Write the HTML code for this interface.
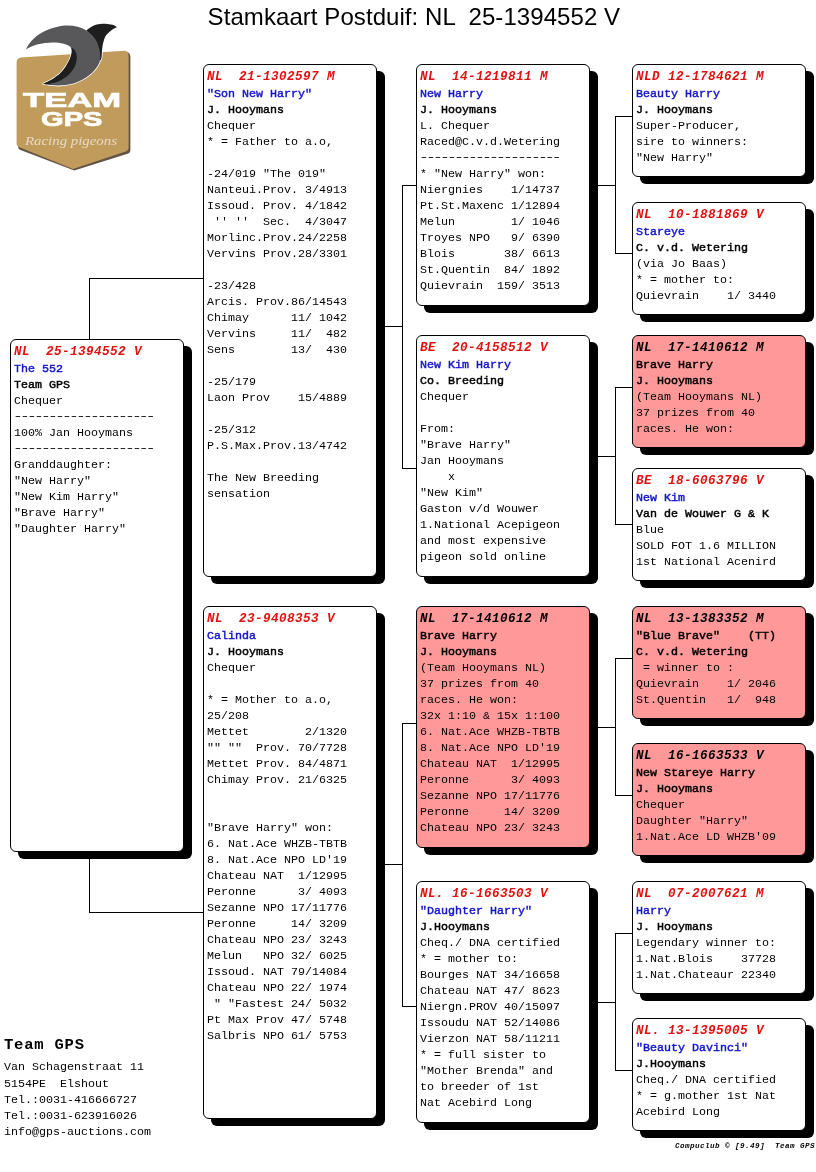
<!DOCTYPE html>
<html lang="nl"><head><meta charset="utf-8"><title>Stamkaart Postduif: NL 25-1394552 V</title>
<style>
html,body{margin:0;padding:0;background:#fff;}
body{width:816px;height:1172px;position:relative;overflow:hidden;font-family:"Liberation Mono",monospace;font-size:11.67px;line-height:16px;color:#000;}
.ln{position:absolute;background:#000;}
.bx{position:absolute;box-sizing:border-box;width:174px;border:1px solid #000;border-radius:6px;background:#fff;box-shadow:8px 7px 0 0 #000;padding:5px 0 0 3px;overflow:hidden;}
.bx.pk{background:#ff9999;}
.bx div{height:16px;white-space:pre;}
.h{font-weight:bold;font-style:italic;color:#e01010;font-size:12.6px;letter-spacing:0.44px;position:relative;top:-1px;}
.n{-webkit-text-stroke:0.45px #1515cc;color:#1515cc;}
.o{-webkit-text-stroke:0.45px #000;}
.bx div.d{letter-spacing:-2px;transform:translate(-1px,-1.25px) scaleX(1.4);transform-origin:0 0;width:120px;}
.pk .h,.pk .n{color:#000;-webkit-text-stroke-color:#000;}
.title{position:absolute;left:207.6px;top:3px;letter-spacing:0.07px;font-family:"Liberation Sans",sans-serif;font-size:24px;line-height:28px;white-space:pre;}
.adr{position:absolute;left:4px;top:1059px;}
.adr div{height:16px;white-space:pre;}
.adr div:first-child{height:17px;}
.tg{position:absolute;left:4px;top:1035px;font-size:15.5px;letter-spacing:0.8px;line-height:20px;font-weight:bold;white-space:pre;}
.ft{position:absolute;left:675px;top:1141px;font-size:7.6px;letter-spacing:0.44px;line-height:10px;font-weight:bold;font-style:italic;white-space:pre;}
.logo{position:absolute;left:0;top:0;}
</style></head><body>
<div class="title">Stamkaart Postduif: NL  25-1394552 V</div>
<svg class="logo" width="140" height="180" viewBox="0 0 140 180">
<path d="M18,146.5 Q18,149 20.5,150 L74.3,170.6 L127.5,153.8 Q130.4,153 130.4,150 L130.4,57 Q130.4,52 125.5,52 L22,59 Q18,59.5 18,63 Z" fill="#635446"/>
<path d="M16.6,143 Q16.6,146.2 19.4,147.3 L73,168.9 L125.8,151.6 Q128.6,150.7 128.6,148 L128.6,56 Q128.6,50.6 124,50.8 L21.2,57.6 Q16.6,58 16.6,62.5 Z" fill="#c19b5c"/>
<g fill="#fff" stroke="#fff" stroke-width="1.6" stroke-linejoin="round">
<path d="M86.5,30.2 C90,27 94,25 96.7,24.4 C100,23.6 103,23.6 105.3,23.8 C108,24 110.5,24.3 112.4,24.8 C114.5,25.4 116,26.3 116.9,27.3 C114.5,28.3 112.5,29.3 110.8,30.7 C108.8,32.3 107,34 106,35.4 C104.8,37.2 104.2,39 103.7,40.9 C103,43.5 102.6,45.5 102.3,47.9 C102,50.5 101.9,52.5 101.8,54.2 C101.7,56.5 101.5,58 101,60 L95,62 L88,33 Z"/>
<path d="M26,49.5 C30,40.5 40,29.5 62.6,25.8 C80,24 92,32 97,42 C101,52 101,60 99,63.5 C95,72 86,79 73.7,83.5 C64,86 52,86 43,83.8 C53,80 61,74 65.5,67 C70,60 73.5,52 71,47.5 C66,42 50,41 37,44.5 C32,46 28,48 26,49.5 Z"/>
</g>
<path d="M86.5,30.2 C90,27 94,25 96.7,24.4 C100,23.6 103,23.6 105.3,23.8 C108,24 110.5,24.3 112.4,24.8 C114.5,25.4 116,26.3 116.9,27.3 C114.5,28.3 112.5,29.3 110.8,30.7 C108.8,32.3 107,34 106,35.4 C104.8,37.2 104.2,39 103.7,40.9 C103,43.5 102.6,45.5 102.3,47.9 C102,50.5 101.9,52.5 101.8,54.2 C101.7,56.5 101.5,58 101,60 L95,62 L88,33 Z" fill="#1e1e1e"/>
<path d="M26,49.5 C30,40.5 40,29.5 62.6,25.8 C80,24 92,32 97,42 C101,52 101,60 99,63.5 C95,72 86,79 73.7,83.5 C64,86 52,86 43,83.8 C53,80 61,74 65.5,67 C70,60 73.5,52 71,47.5 C66,42 50,41 37,44.5 C32,46 28,48 26,49.5 Z" fill="#58585a"/>
<path d="M71,47.5 C75,49 77,53 76.8,58 C76.4,65 73,71 68,75.5 C62,80.5 55,83.5 46,84.3 L43,83.8 C53,80 61,74 65.5,67 C70,60 73.5,52 71,47.5 Z" fill="#1e1e1e"/>
<text x="23" y="107.3" font-family="Liberation Sans, sans-serif" font-weight="bold" font-size="20.5" fill="#fff" stroke="#fff" stroke-width="0.7" textLength="98" lengthAdjust="spacingAndGlyphs">TEAM</text>
<text x="41" y="126.3" font-family="Liberation Sans, sans-serif" font-weight="bold" font-size="19.5" fill="#fff" stroke="#fff" stroke-width="0.7" textLength="61.5" lengthAdjust="spacingAndGlyphs">GPS</text>
<text x="25" y="145" font-family="Liberation Serif, serif" font-style="italic" font-size="13" fill="#fff" fill-opacity="0.62" textLength="92" lengthAdjust="spacingAndGlyphs">Racing pigeons</text>
</svg>

<div class="ln" style="left:89px;top:278px;width:1px;height:62px"></div>
<div class="ln" style="left:89px;top:278px;width:115px;height:1px"></div>
<div class="ln" style="left:89px;top:851px;width:1px;height:62px"></div>
<div class="ln" style="left:89px;top:912px;width:115px;height:1px"></div>
<div class="ln" style="left:376px;top:326px;width:27px;height:1px"></div>
<div class="ln" style="left:402px;top:185px;width:1px;height:284px"></div>
<div class="ln" style="left:402px;top:185px;width:15px;height:1px"></div>
<div class="ln" style="left:402px;top:468px;width:15px;height:1px"></div>
<div class="ln" style="left:376px;top:864px;width:27px;height:1px"></div>
<div class="ln" style="left:402px;top:723px;width:1px;height:284px"></div>
<div class="ln" style="left:402px;top:723px;width:15px;height:1px"></div>
<div class="ln" style="left:402px;top:1006px;width:15px;height:1px"></div>
<div class="ln" style="left:589px;top:185px;width:27px;height:1px"></div>
<div class="ln" style="left:615px;top:116px;width:1px;height:138px"></div>
<div class="ln" style="left:615px;top:116px;width:18px;height:1px"></div>
<div class="ln" style="left:615px;top:253px;width:18px;height:1px"></div>
<div class="ln" style="left:589px;top:456px;width:27px;height:1px"></div>
<div class="ln" style="left:615px;top:387px;width:1px;height:138px"></div>
<div class="ln" style="left:615px;top:387px;width:18px;height:1px"></div>
<div class="ln" style="left:615px;top:524px;width:18px;height:1px"></div>
<div class="ln" style="left:589px;top:727px;width:27px;height:1px"></div>
<div class="ln" style="left:615px;top:658px;width:1px;height:138px"></div>
<div class="ln" style="left:615px;top:658px;width:18px;height:1px"></div>
<div class="ln" style="left:615px;top:795px;width:18px;height:1px"></div>
<div class="ln" style="left:589px;top:1002px;width:27px;height:1px"></div>
<div class="ln" style="left:615px;top:933px;width:1px;height:138px"></div>
<div class="ln" style="left:615px;top:933px;width:18px;height:1px"></div>
<div class="ln" style="left:615px;top:1070px;width:18px;height:1px"></div>
<div class="bx" style="left:10px;top:339px;height:513px">
<div class="h">NL  25-1394552 V</div>
<div class="n">The 552</div>
<div class="o">Team GPS</div>
<div>Chequer</div>
<div class="d">--------------------</div>
<div>100% Jan Hooymans</div>
<div class="d">--------------------</div>
<div>Granddaughter:</div>
<div>"New Harry"</div>
<div>"New Kim Harry"</div>
<div>"Brave Harry"</div>
<div>"Daughter Harry"</div>
</div>
<div class="bx" style="left:203px;top:64px;height:513px">
<div class="h">NL  21-1302597 M</div>
<div class="n">"Son New Harry"</div>
<div class="o">J. Hooymans</div>
<div>Chequer</div>
<div>* = Father to a.o,</div>
<div></div>
<div>-24/019 "The 019"</div>
<div>Nanteui.Prov. 3/4913</div>
<div>Issoud. Prov. 4/1842</div>
<div> '' ''  Sec.  4/3047</div>
<div>Morlinc.Prov.24/2258</div>
<div>Vervins Prov.28/3301</div>
<div></div>
<div>-23/428</div>
<div>Arcis. Prov.86/14543</div>
<div>Chimay      11/ 1042</div>
<div>Vervins     11/  482</div>
<div>Sens        13/  430</div>
<div></div>
<div>-25/179</div>
<div>Laon Prov    15/4889</div>
<div></div>
<div>-25/312</div>
<div>P.S.Max.Prov.13/4742</div>
<div></div>
<div>The New Breeding</div>
<div>sensation</div>
</div>
<div class="bx" style="left:203px;top:606px;height:513px">
<div class="h">NL  23-9408353 V</div>
<div class="n">Calinda</div>
<div class="o">J. Hooymans</div>
<div>Chequer</div>
<div></div>
<div>* = Mother to a.o,</div>
<div>25/208</div>
<div>Mettet        2/1320</div>
<div>"" ""  Prov. 70/7728</div>
<div>Mettet Prov. 84/4871</div>
<div>Chimay Prov. 21/6325</div>
<div></div>
<div></div>
<div>"Brave Harry" won:</div>
<div>6. Nat.Ace WHZB-TBTB</div>
<div>8. Nat.Ace NPO LD'19</div>
<div>Chateau NAT  1/12995</div>
<div>Peronne      3/ 4093</div>
<div>Sezanne NPO 17/11776</div>
<div>Peronne     14/ 3209</div>
<div>Chateau NPO 23/ 3243</div>
<div>Melun   NPO 32/ 6025</div>
<div>Issoud. NAT 79/14084</div>
<div>Chateau NPO 22/ 1974</div>
<div> " "Fastest 24/ 5032</div>
<div>Pt Max Prov 47/ 5748</div>
<div>Salbris NPO 61/ 5753</div>
</div>
<div class="bx" style="left:416px;top:64px;height:242px">
<div class="h">NL  14-1219811 M</div>
<div class="n">New Harry</div>
<div class="o">J. Hooymans</div>
<div>L. Chequer</div>
<div>Raced@C.v.d.Wetering</div>
<div class="d">--------------------</div>
<div>* "New Harry" won:</div>
<div>Niergnies    1/14737</div>
<div>Pt.St.Maxenc 1/12894</div>
<div>Melun        1/ 1046</div>
<div>Troyes NPO   9/ 6390</div>
<div>Blois       38/ 6613</div>
<div>St.Quentin  84/ 1892</div>
<div>Quievrain  159/ 3513</div>
</div>
<div class="bx" style="left:416px;top:335px;height:242px">
<div class="h">BE  20-4158512 V</div>
<div class="n">New Kim Harry</div>
<div class="o">Co. Breeding</div>
<div>Chequer</div>
<div></div>
<div>From:</div>
<div>"Brave Harry"</div>
<div>Jan Hooymans</div>
<div>    x</div>
<div>"New Kim"</div>
<div>Gaston v/d Wouwer</div>
<div>1.National Acepigeon</div>
<div>and most expensive</div>
<div>pigeon sold online</div>
</div>
<div class="bx pk" style="left:416px;top:606px;height:242px">
<div class="h">NL  17-1410612 M</div>
<div class="n">Brave Harry</div>
<div class="o">J. Hooymans</div>
<div>(Team Hooymans NL)</div>
<div>37 prizes from 40</div>
<div>races. He won:</div>
<div>32x 1:10 &amp; 15x 1:100</div>
<div>6. Nat.Ace WHZB-TBTB</div>
<div>8. Nat.Ace NPO LD'19</div>
<div>Chateau NAT  1/12995</div>
<div>Peronne      3/ 4093</div>
<div>Sezanne NPO 17/11776</div>
<div>Peronne     14/ 3209</div>
<div>Chateau NPO 23/ 3243</div>
</div>
<div class="bx" style="left:416px;top:881px;height:242px">
<div class="h">NL. 16-1663503 V</div>
<div class="n">"Daughter Harry"</div>
<div class="o">J.Hooymans</div>
<div>Cheq./ DNA certified</div>
<div>* = mother to:</div>
<div>Bourges NAT 34/16658</div>
<div>Chateau NAT 47/ 8623</div>
<div>Niergn.PROV 40/15097</div>
<div>Issoudu NAT 52/14086</div>
<div>Vierzon NAT 58/11211</div>
<div>* = full sister to</div>
<div>"Mother Brenda" and</div>
<div>to breeder of 1st</div>
<div>Nat Acebird Long</div>
</div>
<div class="bx" style="left:632px;top:64px;height:113px">
<div class="h">NLD 12-1784621 M</div>
<div class="n">Beauty Harry</div>
<div class="o">J. Hooymans</div>
<div>Super-Producer,</div>
<div>sire to winners:</div>
<div>"New Harry"</div>
</div>
<div class="bx" style="left:632px;top:202px;height:113px">
<div class="h">NL  10-1881869 V</div>
<div class="n">Stareye</div>
<div class="o">C. v.d. Wetering</div>
<div>(via Jo Baas)</div>
<div>* = mother to:</div>
<div>Quievrain    1/ 3440</div>
</div>
<div class="bx pk" style="left:632px;top:335px;height:113px">
<div class="h">NL  17-1410612 M</div>
<div class="n">Brave Harry</div>
<div class="o">J. Hooymans</div>
<div>(Team Hooymans NL)</div>
<div>37 prizes from 40</div>
<div>races. He won:</div>
</div>
<div class="bx" style="left:632px;top:468px;height:113px">
<div class="h">BE  18-6063796 V</div>
<div class="n">New Kim</div>
<div class="o">Van de Wouwer G &amp; K</div>
<div>Blue</div>
<div>SOLD FOT 1.6 MILLION</div>
<div>1st National Acenird</div>
</div>
<div class="bx pk" style="left:632px;top:606px;height:113px">
<div class="h">NL  13-1383352 M</div>
<div class="n">"Blue Brave"    (TT)</div>
<div class="o">C. v.d. Wetering</div>
<div> = winner to :</div>
<div>Quievrain    1/ 2046</div>
<div>St.Quentin   1/  948</div>
</div>
<div class="bx pk" style="left:632px;top:743px;height:113px">
<div class="h">NL  16-1663533 V</div>
<div class="n">New Stareye Harry</div>
<div class="o">J. Hooymans</div>
<div>Chequer</div>
<div>Daughter "Harry"</div>
<div>1.Nat.Ace LD WHZB'09</div>
</div>
<div class="bx" style="left:632px;top:881px;height:113px">
<div class="h">NL  07-2007621 M</div>
<div class="n">Harry</div>
<div class="o">J. Hooymans</div>
<div>Legendary winner to:</div>
<div>1.Nat.Blois    37728</div>
<div>1.Nat.Chateaur 22340</div>
</div>
<div class="bx" style="left:632px;top:1018px;height:113px">
<div class="h">NL. 13-1395005 V</div>
<div class="n">"Beauty Davinci"</div>
<div class="o">J.Hooymans</div>
<div>Cheq./ DNA certified</div>
<div>* = g.mother 1st Nat</div>
<div>Acebird Long</div>
</div>
<div class="tg">Team GPS</div>
<div class="adr"><div>Van Schagenstraat 11</div><div>5154PE  Elshout</div><div>Tel.:0031-416666727</div><div>Tel.:0031-623916026</div><div>info@gps-auctions.com</div></div>
<div class="ft">Compuclub © [9.49]  Team GPS</div>
</body></html>
